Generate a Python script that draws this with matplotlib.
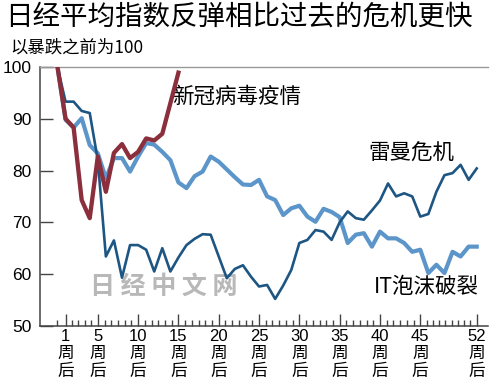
import numpy as np
import matplotlib
matplotlib.use('Agg')
import matplotlib.pyplot as plt

plt.rcParams['font.family'] = ['Liberation Sans', 'Noto Sans CJK SC', 'DejaVu Sans']

# 以暴跌之前为100, 每周数据
covid = [100, 90.0, 88.3, 74.3, 70.8, 82.7, 75.9, 83.4, 85.1, 82.4, 83.6, 86.2,
         85.8, 87.1, 93.0, 98.9]
lehman = [100, 93.3, 93.3, 91.5, 91.1, 82.0, 63.4, 66.5, 59.3, 65.6, 65.6, 64.7,
          60.5, 65.0, 60.5, 63.2, 65.6, 66.8, 67.7, 67.6, 63.4, 59.2, 61.0, 61.7,
          59.5, 57.6, 57.9, 55.2, 57.8, 60.8, 66.0, 66.6, 68.5, 68.2, 66.6, 70.0,
          72.1, 70.8, 70.5, 72.3, 74.2, 77.5, 75.0, 75.6, 75.0, 71.1, 71.6, 75.9,
          79.1, 79.5, 81.1, 78.2, 80.4]
it_bubble = [100, 89.8, 88.3, 90.1, 84.9, 83.3, 78.5, 82.4, 82.4, 79.8, 82.7, 85.3,
             85.0, 83.6, 82.0, 77.7, 76.6, 78.9, 79.8, 82.7, 81.7, 80.2, 78.7, 77.3,
             77.2, 78.2, 75.0, 74.3, 71.4, 72.7, 73.2, 71.1, 70.1, 72.6, 72.0, 71.0,
             66.0, 67.6, 67.9, 65.3, 68.2, 66.9, 66.9, 66.0, 64.3, 64.7, 60.2, 61.8,
             60.2, 64.3, 63.4, 65.3, 65.3]
major_weeks = [1, 5, 10, 15, 20, 25, 30, 35, 40, 45, 52]
y_ticks = [50, 60, 70, 80, 90, 100]

RED = '#8b2f3c'
DARK = '#1d5583'
LIGHT = '#5b95c9'

fig = plt.figure(figsize=(5.0, 3.87), dpi=100)
ax = fig.add_axes([0.08, 0.158, 0.896, 0.669])

ax.plot(range(len(it_bubble)), it_bubble, color=LIGHT, lw=3.0, solid_joinstyle='round', zorder=2)
ax.plot(range(len(lehman)), lehman, color=DARK, lw=1.9, solid_joinstyle='round', zorder=3)
ax.plot(range(len(covid)), covid, color=RED, lw=3.1, solid_joinstyle='round', zorder=4)

ax.set_xlim(-2.17, 53.4)
ax.set_ylim(50, 100)

# 刻度
ax.set_yticks(y_ticks)
ax.set_yticklabels([str(v) for v in y_ticks], fontsize=12.5)
ax.set_xticks(major_weeks)
ax.set_xticklabels([f'{w}\n周\n后' for w in major_weeks], fontsize=12, linespacing=1.22)
minor = [0]
for a, b in zip(major_weeks[:-1], major_weeks[1:]):
    n = int(round((b - a) / 0.8))
    minor += list(np.linspace(a, b, n + 1)[1:-1])
ax.set_xticks(minor, minor=True)
ax.tick_params(axis='y', direction='in', length=9, width=1, color='#444', pad=6)
ax.tick_params(axis='x', which='major', direction='in', length=9, width=1, color='#444', pad=2)
ax.tick_params(axis='x', which='minor', direction='in', length=4.5, width=1, color='#444')

for s in ['left', 'bottom']:
    ax.spines[s].set_color('#444')
    ax.spines[s].set_linewidth(1.1)
ax.spines['right'].set_visible(False)
ax.spines['top'].set_color('#999')
ax.spines['top'].set_linewidth(1.0)

# 标注
ax.text(14.2, 94.2, '新冠病毒疫情', fontsize=15.5, family=['Noto Sans CJK SC'], va='center')
ax.text(38.5, 83.3, '雷曼危机', fontsize=15.5, family=['Noto Sans CJK SC'], va='center')
ax.text(39.3, 57.5, 'IT泡沫破裂', fontsize=15.5, family=['Noto Sans CJK SC'], va='center')
ax.text(4.0, 57.5, '日 经 中 文 网', fontsize=18, family=['Noto Sans CJK SC'], va='center',
        color='#a0a0a0', alpha=0.75, fontweight='bold', zorder=1)

fig.text(0.01, 0.955, '日经平均指数反弹相比过去的危机更快', fontsize=19.8,
         family=['Noto Sans CJK SC'], va='center')
fig.text(0.02, 0.877, '以暴跌之前为100', fontsize=12.5,
         family=['Noto Sans CJK SC'], va='center')

fig.savefig('out.png', dpi=100)
